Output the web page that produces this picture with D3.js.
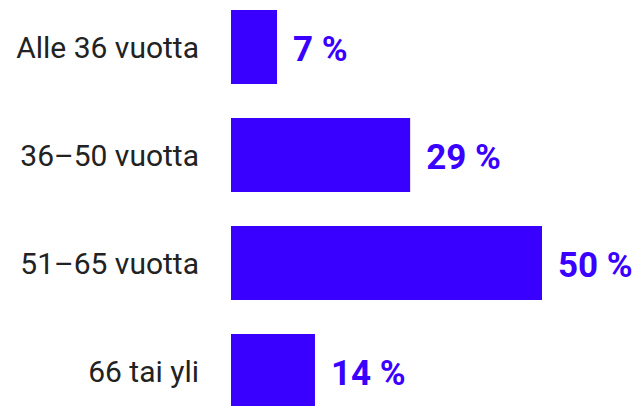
<!DOCTYPE html>
<html>
<head>
<meta charset="utf-8">
<script src="https://cdn.jsdelivr.net/npm/d3@7"></script>
<style>
	body { margin: 0; background: #fff; }
	.cat { font-family: Roboto, sans-serif; font-size: 30px; fill: #222; }
	.val { font-family: Roboto, sans-serif; font-size: 35px; font-weight: 700; fill: #3a00ff; }
</style>
</head>
<body>
<svg id="chart" width="641" height="406"></svg>
<script>
var categories = ["Alle 36 vuotta", "36–50 vuotta", "51–65 vuotta", "66 tai yli"];
var values = [7.4, 28.8, 50, 13.5];
var labels = ["7 %", "29 %", "50 %", "14 %"];

var svg = d3.select("#chart"),
	x0 = 231;

var xscale = d3.scaleLinear()
	.domain([0, 50])
	.range([x0, 542]);

var yscale = d3.scaleBand()
	.domain(categories)
	.range([10, 408])
	.paddingInner(34/108)
	.paddingOuter(0);

var rows = svg.selectAll("g.row")
	.data(categories)
	.enter().append("g")
	.attr("class", "row");

rows.append("rect")
	.attr("x", xscale(0))
	.attr("y", function(d) { return yscale(d); })
	.attr("width", function(d, i) { return xscale(values[i]) - xscale(0); })
	.attr("height", yscale.bandwidth())
	.attr("fill", "#3a00ff");

rows.append("text")
	.attr("class", "cat")
	.attr("text-anchor", "end")
	.attr("x", x0 - 32)
	.attr("y", function(d) { return yscale(d) + yscale.bandwidth()/2 + 10.5; })
	.text(function(d) { return d; });

rows.append("text")
	.attr("class", "val")
	.attr("x", function(d, i) { return xscale(values[i]) + 16; })
	.attr("y", function(d) { return yscale(d) + yscale.bandwidth()/2 + 13.5; })
	.text(function(d, i) { return labels[i]; });
</script>
</body>
</html>
